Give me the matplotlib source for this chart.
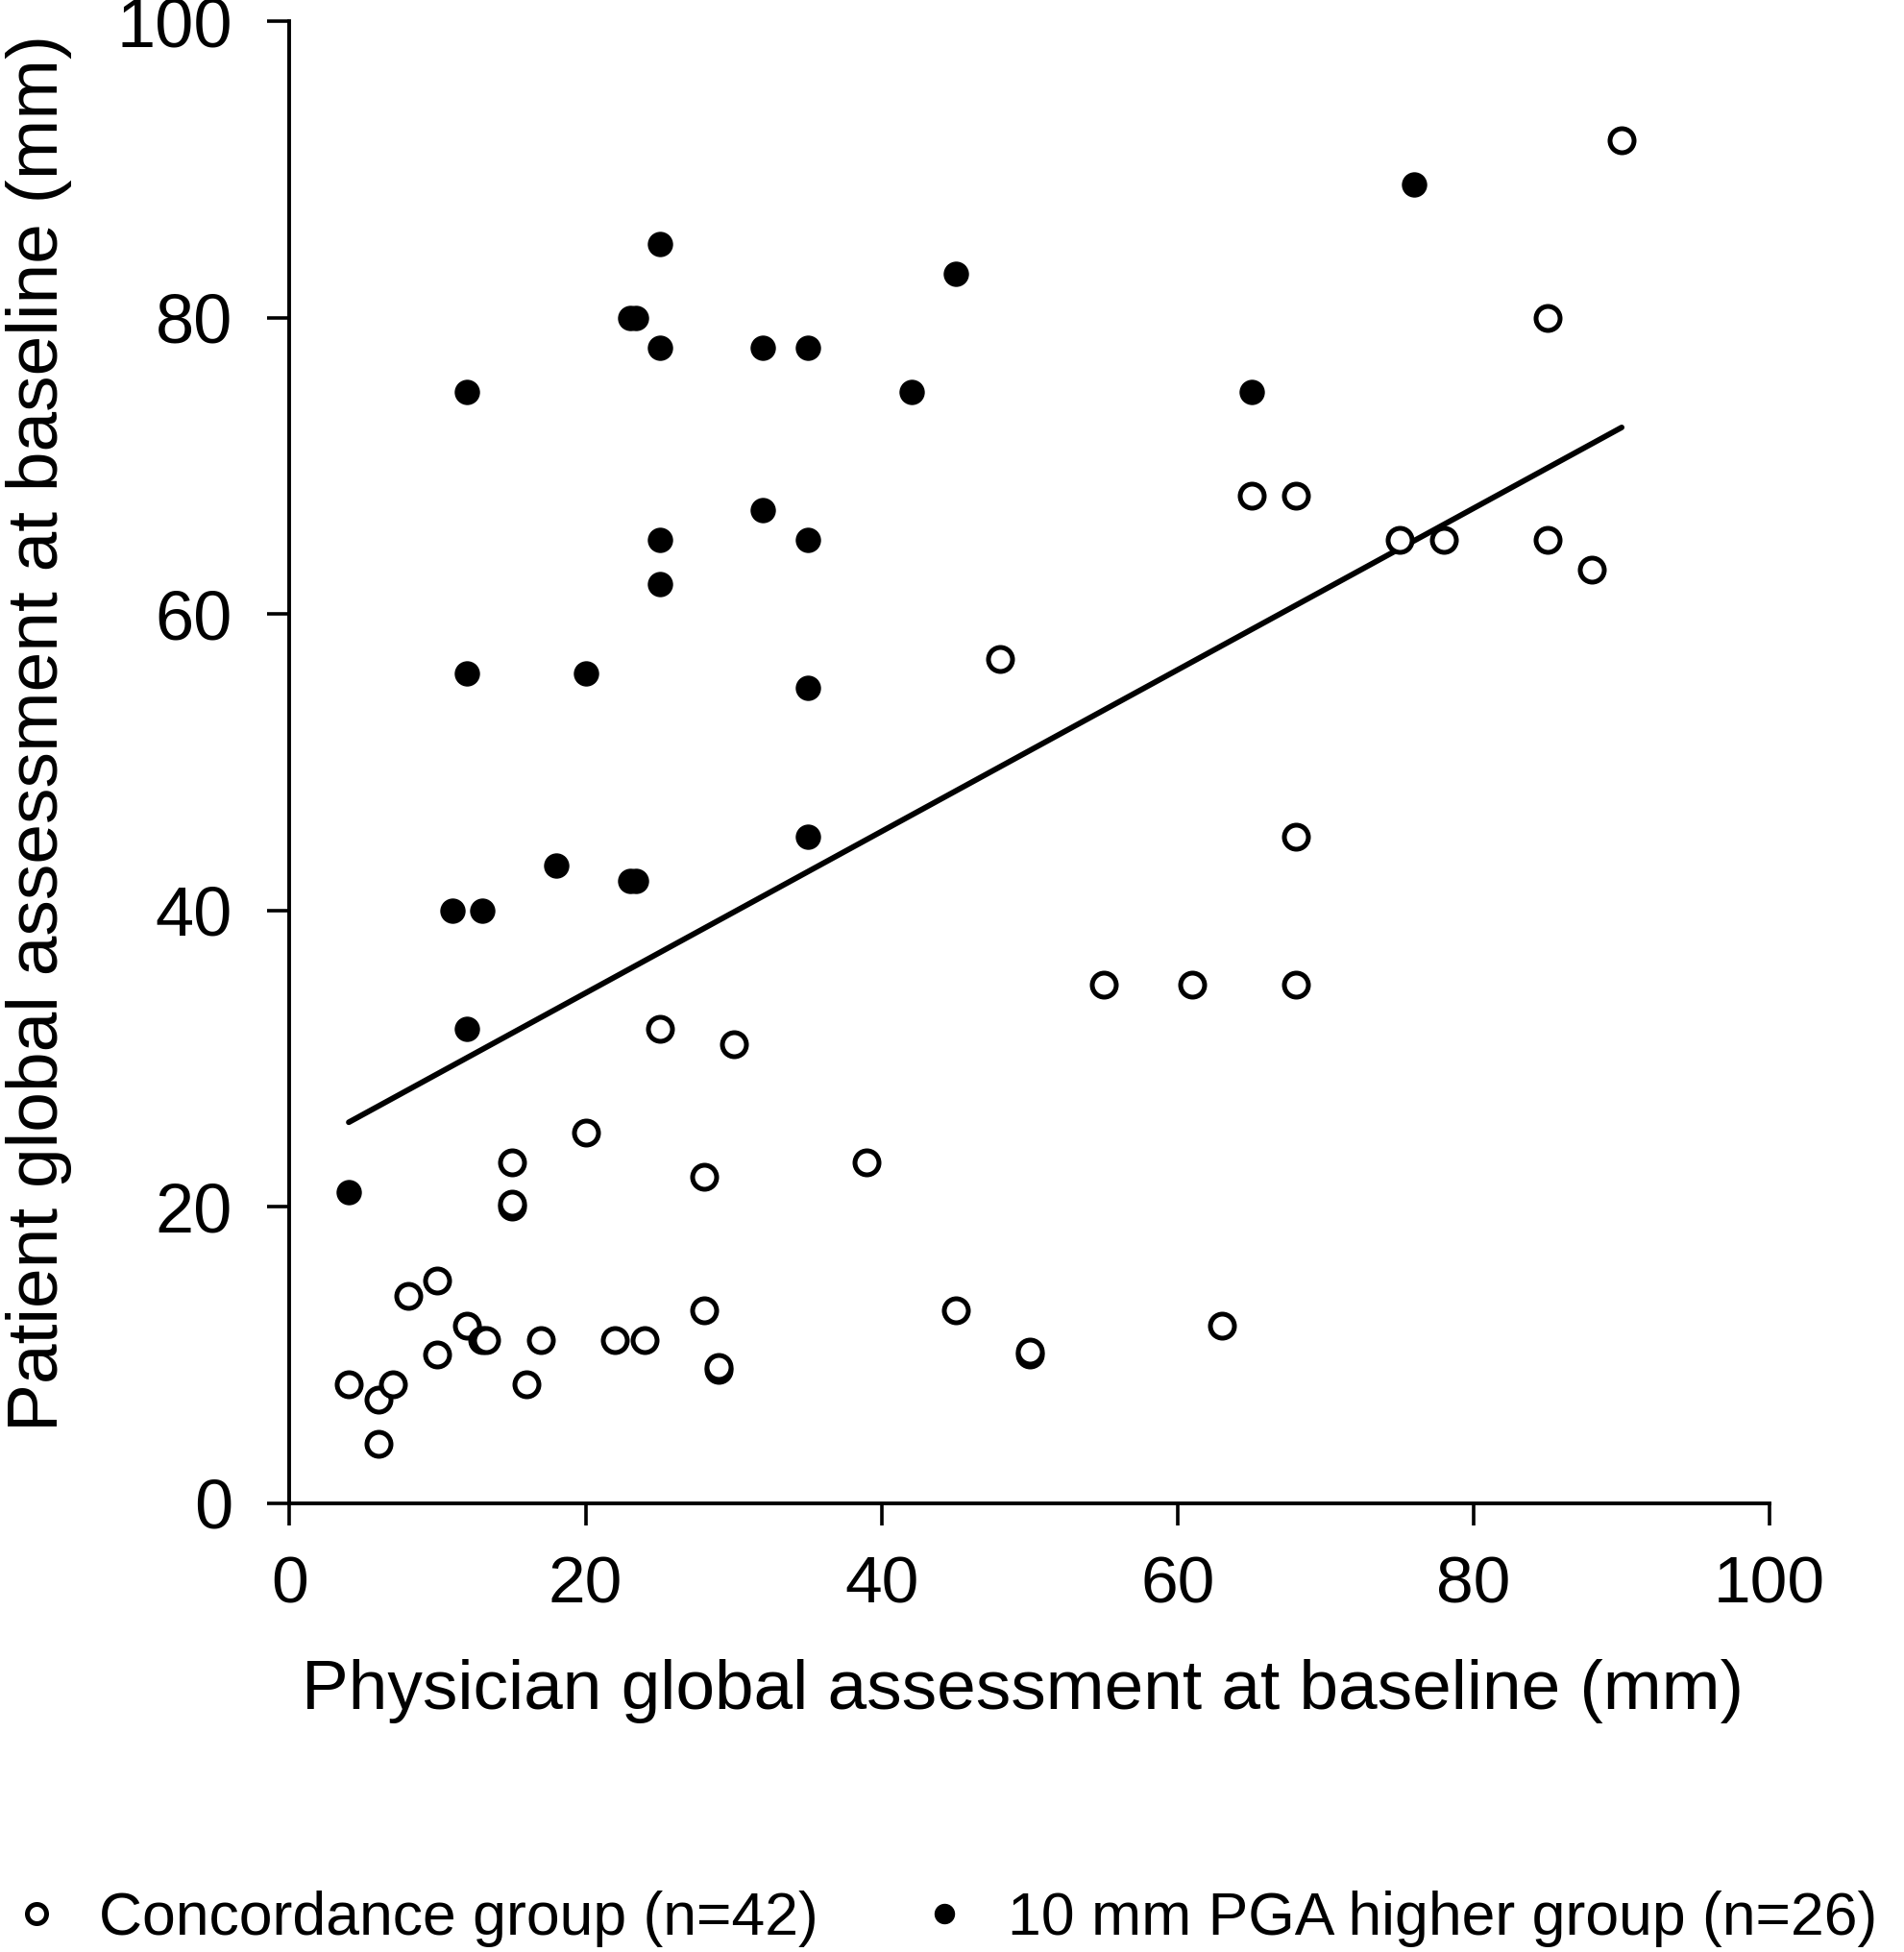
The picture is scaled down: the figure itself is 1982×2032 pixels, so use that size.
import matplotlib
matplotlib.use("Agg")
import matplotlib.pyplot as plt
from matplotlib import font_manager

# concordance group (open circles), n=42
conc_x = [4, 6, 6, 7, 8, 10, 10, 12, 13, 13.3, 15, 15, 15, 16, 17, 20, 22, 24, 25, 28,
          28, 29, 29, 30, 39, 45, 48, 50, 50, 55, 61, 63, 65, 68, 68, 68, 75, 78, 85, 85,
          88, 90]
conc_y = [8, 7, 4, 8, 14, 15, 10, 12, 11, 11, 23, 20, 20.2, 8, 11, 25, 11, 11, 32, 22,
          13, 9, 9.2, 31, 23, 13, 57, 10, 10.2, 35, 35, 12, 68, 68, 45, 35, 65, 65, 80, 65,
          63, 92]

# 10 mm PGA higher group (filled circles), n=26
pga_x = [4, 11, 13, 12, 12, 12, 18, 20, 23, 23.4, 23, 23.4, 25, 25, 25, 25, 32, 32, 35,
         35, 35, 35, 42, 45, 65, 76]
pga_y = [21, 40, 40, 32, 56, 75, 43, 56, 42, 42, 80, 80, 85, 78, 65, 62, 78, 67, 78,
         65, 55, 45, 75, 83, 75, 89]

# regression line end points
fit_x = [4, 90]
fit_y = [25.7, 72.6]

names = {f.name for f in font_manager.fontManager.ttflist}
fam = ['Liberation Sans', 'DejaVu Sans'] if 'Liberation Sans' in names else ['DejaVu Sans']
plt.rcParams['font.family'] = fam

fig = plt.figure(figsize=(9.915, 10.16), dpi=200)
ax = fig.add_axes([0.152, 0.230, 0.777, 0.759])

ax.plot(fit_x, fit_y, color='black', lw=2.1, zorder=2, solid_capstyle='round')
h1, = ax.plot(conc_x, conc_y, 'o', ms=9, mfc='white', mec='black', mew=1.8,
              ls='none', zorder=3, label='Concordance group (n=42)')
h2, = ax.plot(pga_x, pga_y, 'o', ms=9, mfc='black', mec='black', mew=0.5,
              ls='none', zorder=4, label='10 mm PGA higher group (n=26)')

ax.set_xlim(0, 100)
ax.set_ylim(0, 100)
ax.set_xticks([0, 20, 40, 60, 80, 100])
ax.set_yticks([0, 20, 40, 60, 80, 100])
for s in ['top', 'right']:
    ax.spines[s].set_visible(False)
for s in ['left', 'bottom']:
    ax.spines[s].set_linewidth(1.4)
ax.tick_params(axis='both', direction='out', length=8.4, width=1.3)
ax.tick_params(axis='x', labelsize=25, pad=11)
ax.tick_params(axis='y', labelsize=26, pad=13)

ax.set_xlabel('Physician global assessment at baseline (mm)', fontsize=26.3)
ax.xaxis.set_label_coords(0.495, -0.105)
ax.set_ylabel('Patient global assessment at baseline (mm)', fontsize=27)
ax.yaxis.set_label_coords(-0.147, 0.52)

fig.legend([h1, h2], [h1.get_label(), h2.get_label()], loc='center left',
           bbox_to_anchor=(0.0, 0.017), ncol=2, frameon=False, fontsize=22.5,
           handlelength=1.2, handletextpad=0.45, columnspacing=1.5,
           borderaxespad=0, borderpad=0, markerscale=0.8)

fig.savefig('out.png', dpi=200)
